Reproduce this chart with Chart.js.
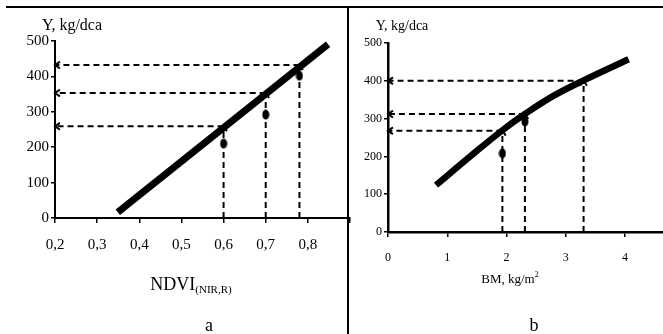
<!DOCTYPE html>
<html>
<head>
<meta charset="utf-8">
<script src="https://cdn.jsdelivr.net/npm/chart.js@4"></script>
<style>
  body { margin: 0; background: #fff; }
  #wrap { position: relative; width: 663px; height: 334px; overflow: hidden; font-family: 'Liberation Serif', 'DejaVu Serif', serif; color: #000; }
  canvas { position: absolute; top: 0; }
  .t { position: absolute; white-space: nowrap; line-height: 1; transform: translate(-50%, -50%); }
  .rule { position: absolute; background: #000; }
  sub { font-size: 11px; vertical-align: -3px; }
  sup { font-size: 8px; vertical-align: 6px; }
</style>
</head>
<body>
<div id="wrap">
  <canvas id="chartA" width="352" height="334" style="left:0"></canvas>
  <canvas id="chartB" width="313" height="334" style="left:350px"></canvas>
  <div class="rule" style="left:6px; top:6px; width:657px; height:2px"></div>
  <div class="rule" style="left:347px; top:6px; width:2px; height:328px"></div>
  <div class="t" style="left:72px; top:25px; font-size:16px">Y, kg/dca</div>
  <div class="t" style="left:402px; top:26px; font-size:14px">Y, kg/dca</div>
  <div class="t" style="left:191px; top:285px; font-size:18px">NDVI<sub>(NIR,R)</sub></div>
  <div class="t" style="left:510px; top:278px; font-size:13px">BM, kg/m<sup>2</sup></div>
  <div class="t" style="left:209px; top:325px; font-size:18px">a</div>
  <div class="t" style="left:534px; top:325px; font-size:18px">b</div>
</div>
<script>
// panel a: yield vs NDVI
const ndviLineX = [0.349, 0.848];
const ndviLineY = [16, 491];
const ndviX = [0.6, 0.7, 0.78];
const ndviMeasured = [210, 292, 402];
const ndviPredicted = [259, 353, 432];

// panel b: yield vs biomass
const bmCurveX = [0.81, 1.38, 1.92, 2.31, 2.79, 3.30, 4.06];
const bmCurveY = [124, 199, 268, 312, 360, 401, 457];
const bmX = [1.93, 2.31, 3.30];
const bmMeasured = [208, 292];
const bmPredicted = [268, 312, 400];

const serif = "'Liberation Serif', 'DejaVu Serif', serif";
const pts = (xs, ys) => ys.map((y, i) => ({ x: xs[i], y: y }));

// oval marker
const dot = document.createElement('canvas');
dot.width = 8; dot.height = 11;
const g = dot.getContext('2d');
g.fillStyle = '#000';
g.beginPath();
g.ellipse(4, 5.5, 3.5, 5, 0, 0, Math.PI * 2);
g.fill();

// open arrowhead at the last point of datasets flagged with arrow:true
const arrows = {
  id: 'arrows',
  afterDatasetsDraw(chart) {
    const ctx = chart.ctx;
    chart.data.datasets.forEach((ds, i) => {
      if (!ds.arrow) return;
      const el = chart.getDatasetMeta(i).data;
      const a = el[el.length - 2], b = el[el.length - 1];
      const ang = Math.atan2(b.y - a.y, b.x - a.x);
      const L = 6, s = 0.6;
      ctx.save();
      ctx.strokeStyle = '#000';
      ctx.lineWidth = 2;
      ctx.beginPath();
      ctx.moveTo(b.x - L * Math.cos(ang - s), b.y - L * Math.sin(ang - s));
      ctx.lineTo(b.x, b.y);
      ctx.lineTo(b.x - L * Math.cos(ang + s), b.y - L * Math.sin(ang + s));
      ctx.stroke();
      ctx.restore();
    });
  }
};

function guides(xs, ys, xAxisMin) {
  const out = [];
  xs.forEach((x, i) => {
    const base = { borderColor: '#000', borderWidth: 2, borderDash: [6, 4], pointRadius: 0, arrow: true, order: 3 };
    out.push(Object.assign({ data: [{ x: x, y: 0 }, { x: x, y: ys[i] }] }, base));
    out.push(Object.assign({ data: [{ x: x, y: ys[i] }, { x: xAxisMin, y: ys[i] }] }, base));
  });
  return out;
}

function axisOpts(o) {
  return {
    type: 'linear',
    min: o.min, max: o.max,
    grid: { drawOnChartArea: false, drawTicks: true, tickLength: o.tick, color: '#000', lineWidth: 1.5 },
    border: { display: true, color: '#000', width: o.bw },
    ticks: {
      stepSize: o.step, includeBounds: false, padding: o.pad, color: '#000',
      font: { family: serif, size: o.size },
      callback: o.cb
    },
    afterFit: s => {
      o.fit(s);
      s.paddingLeft = 0; s.paddingRight = 0; s.paddingTop = 0; s.paddingBottom = 0;
    }
  };
}

const common = {
  responsive: false,
  animation: false,
  events: [],
  plugins: { legend: { display: false }, tooltip: { enabled: false } }
};

new Chart(document.getElementById('chartA'), {
  type: 'line',
  data: {
    datasets: [
      { data: pts(ndviX, ndviMeasured), showLine: false, pointStyle: dot, pointRadius: 4, order: 1 },
      { data: pts(ndviLineX, ndviLineY), borderColor: '#000', borderWidth: 7, borderCapStyle: 'butt', pointRadius: 0, order: 2 },
      ...guides(ndviX, ndviPredicted, 0.2)
    ]
  },
  options: Object.assign({}, common, {
    layout: { autoPadding: false, padding: { top: 41, right: 2, left: 0, bottom: 0 } },
    scales: {
      x: axisOpts({ min: 0.2, max: 0.9, step: 0.1, tick: 5, bw: 2, pad: 13, size: 15,
        cb: v => v > 0.85 ? '' : v.toFixed(1).replace('.', ','),
        fit: s => { s.height = 116; } }),
      y: axisOpts({ min: 0, max: 500, step: 100, tick: 4, bw: 2, pad: 2, size: 15,
        cb: v => v, fit: s => { s.width = 55; } })
    }
  }),
  plugins: [arrows]
});

new Chart(document.getElementById('chartB'), {
  type: 'line',
  data: {
    datasets: [
      { data: pts(bmX, bmMeasured), showLine: false, pointStyle: dot, pointRadius: 4, order: 1 },
      { data: pts(bmCurveX, bmCurveY), borderColor: '#000', borderWidth: 6.5, borderCapStyle: 'butt', pointRadius: 0, tension: 0.4, order: 2 },
      ...guides(bmX, bmPredicted, 0)
    ]
  },
  options: Object.assign({}, common, {
    layout: { autoPadding: false, padding: { top: 43, right: 0, left: 0, bottom: 0 } },
    scales: {
      x: axisOpts({ min: 0, max: 4.64, step: 1, tick: 5, bw: 2.5, pad: 14, size: 12,
        cb: v => v, fit: s => { s.height = 102; } }),
      y: axisOpts({ min: 0, max: 500, step: 100, tick: 4, bw: 2.5, pad: 2, size: 12,
        cb: v => v, fit: s => { s.width = 38; } })
    }
  }),
  plugins: [arrows]
});
</script>
</body>
</html>
